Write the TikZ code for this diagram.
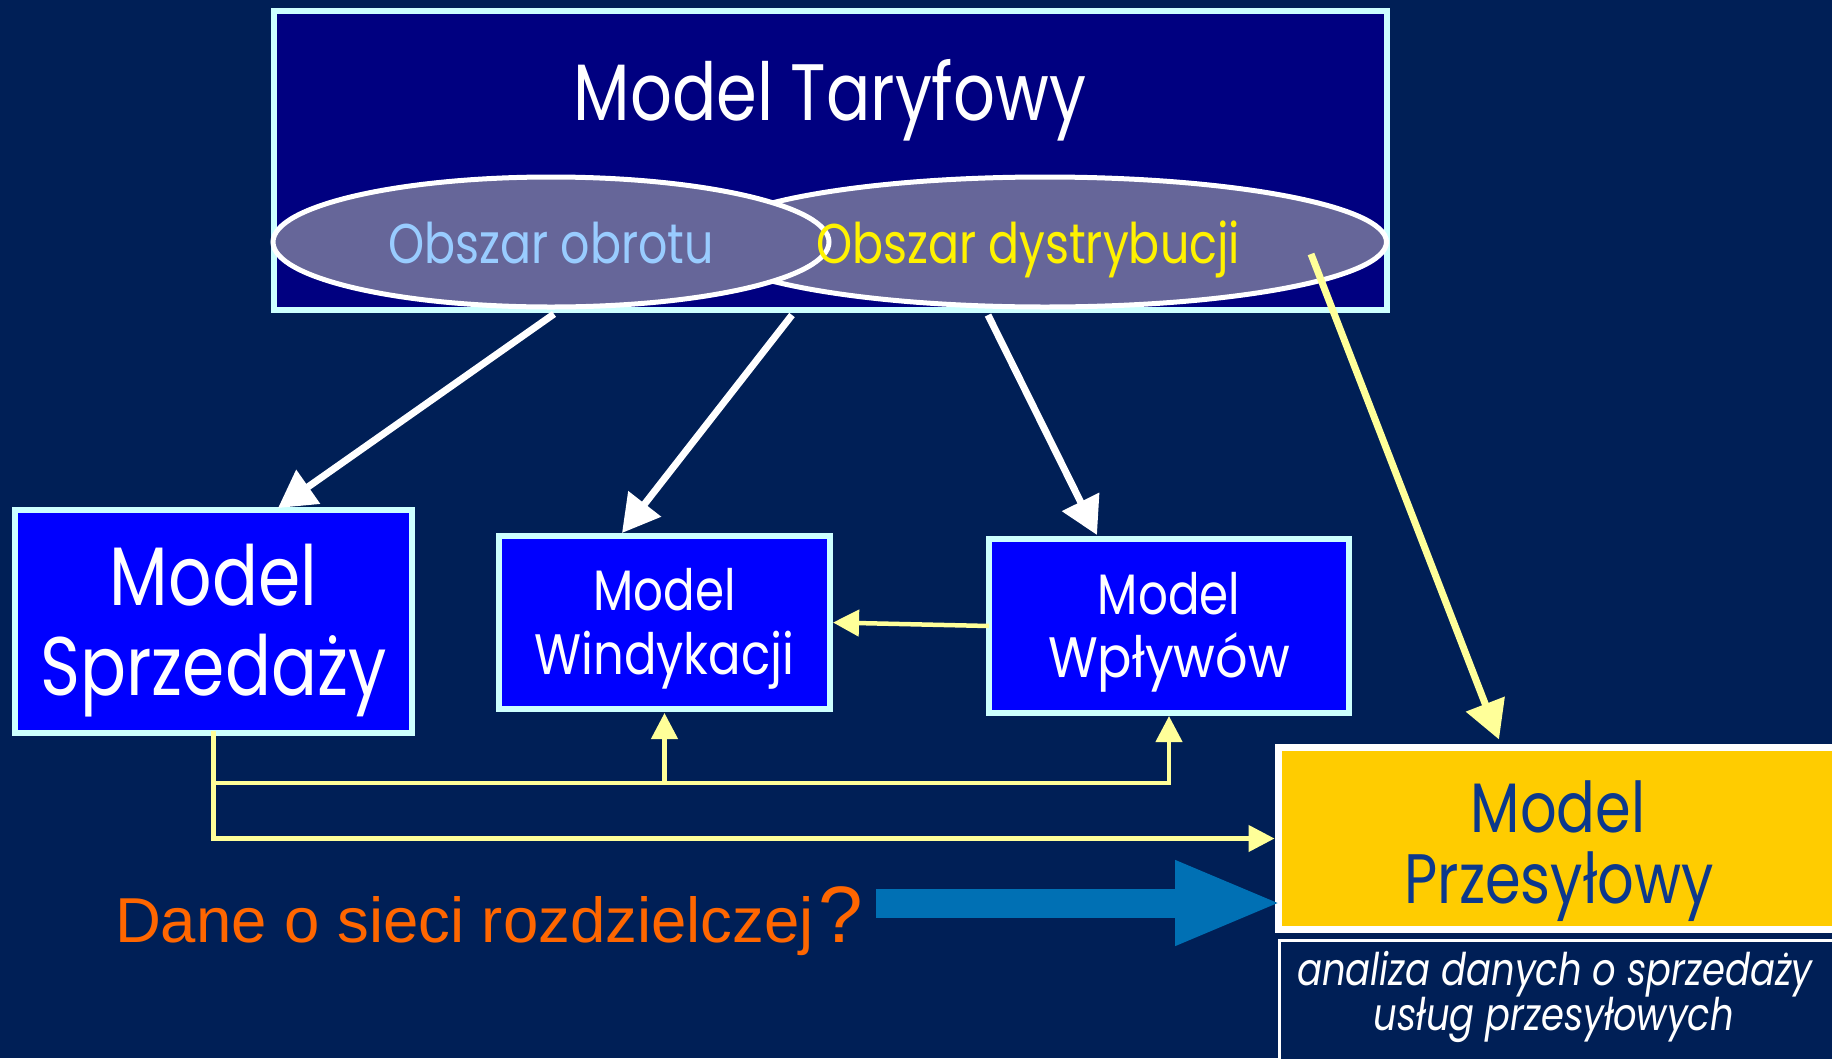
\documentclass[tikz,border=0pt]{standalone}
\usepackage{fontspec}
\setmainfont{Poppins}
\newfontfamily\futura{Poppins}[FakeStretch=0.82]
\newfontfamily\arialf{Liberation Sans}
\usetikzlibrary{arrows.meta,shapes.geometric,calc}
\definecolor{bg}{RGB}{0,31,86}
\definecolor{navyf}{RGB}{0,0,128}
\definecolor{cyb}{RGB}{204,255,255}
\definecolor{ellf}{RGB}{102,102,153}
\definecolor{boxb}{RGB}{0,0,255}
\definecolor{lyel}{RGB}{255,255,153}
\definecolor{gold}{RGB}{255,204,0}
\definecolor{ptxt}{RGB}{12,56,140}
\definecolor{orng}{RGB}{255,102,0}
\definecolor{barr}{RGB}{0,112,180}
\definecolor{lblue}{RGB}{153,204,255}
\newcommand\fsz[1]{\fontsize{#1}{#1}\selectfont}
\tikzset{
  txt/.style={inner sep=0pt, outer sep=0pt, anchor=base},
  modbox/.style={draw=cyb, line width=6pt, fill=boxb, inner sep=0pt, outer sep=0pt},
  ell/.style={ellipse, draw=white, line width=5pt, fill=ellf, inner sep=0pt, outer sep=0pt},
  warr/.style={draw=white, line width=7pt, -{Triangle[length=37pt,width=40pt]}},
  yarr/.style={draw=lyel, line width=4.5pt, -{Triangle[length=26pt,width=26pt]}},
  yline/.style={draw=lyel, line width=4.5pt, line cap=rect},
}
\begin{document}
\begin{tikzpicture}[x=1pt,y=-1pt]
\clip (0,0) rectangle (1832,1058);
\fill[bg] (0,0) rectangle (1832,1058);
% top box
\node[draw=cyb, line width=6pt, fill=navyf, minimum width=1113pt, minimum height=299pt, inner sep=0pt, outer sep=0pt] (tar) at (830.5,160.5) {};
\node[txt, white] (tart) at (830,120) {\futura\fsz{80}Model Taryfowy};
\node[ell, minimum width=683pt, minimum height=130pt] (e2) at (1045,242) {};
\node[ell, minimum width=556pt, minimum height=130pt] (e1) at (551,242) {};
\node[txt, lblue] (obtx) at (551,263) {\futura\fsz{56}Obszar obrotu};
\node[txt, yellow] (dytx) at (1028,263) {\futura\fsz{56}Obszar dystrybucji};
% model boxes
\node[modbox, minimum width=397pt, minimum height=223pt] (spr) at (213.5,621.5) {};
\node[txt, white] (spr1) at (213.5,605) {\futura\fsz{83}Model};
\node[txt, white] (spr2) at (213.5,695) {\futura\fsz{83}Sprzedaży};
\node[modbox, minimum width=331pt, minimum height=173pt] (win) at (664.5,622.5) {};
\node[txt, white] (win1) at (664.5,610) {\futura\fsz{57}Model};
\node[txt, white] (win2) at (664.5,674) {\futura\fsz{57}\scalebox{1.03}[1]{Windykacji}};
\node[modbox, minimum width=360pt, minimum height=174pt] (wpl) at (1169,626) {};
\node[txt, white] (wpl1) at (1169,614) {\futura\fsz{57}Model};
\node[txt, white] (wpl2) at (1169,677) {\futura\fsz{57}\scalebox{1.09}[1]{Wpływów}};
% Przesylowy
\node[draw=white, line width=7pt, fill=gold, minimum width=621.5pt, minimum height=182pt, inner sep=0pt, outer sep=0pt] (prz) at (1589.25,838.5) {};
\node[txt, ptxt] (prz1) at (1558,832) {\futura\fsz{70}Model};
\node[txt, ptxt] (prz2) at (1559,903) {\futura\fsz{70}Przesyłowy};
\node[draw=white, line width=3pt, fill=bg, minimum width=620pt, minimum height=160pt, inner sep=0pt, outer sep=0pt, anchor=north west] (ana) at (1279.5,940.5) {};
\node[txt, white] (ana1) at (1555,985) {\futura\fsz{45}\itshape analiza danych o sprzedaży};
\node[txt, white] (ana2) at (1554,1030) {\futura\fsz{45}\itshape usług przesyłowych};
% text bottom
\node[txt, anchor=base west, orng] (dane) at (115,942) {\arialf\fsz{63.5}Dane o sieci rozdzielczej\kern5pt{\fsz{80}?}};
% white arrows
\coordinate (s1) at (554,314);
\coordinate (s2) at (792,315);
\coordinate (s3) at (988,315);
\draw[warr] (s1) -- ($(spr.north)+(64.5,-2)$);
\draw[warr] (s2) -- ($(win.north)+(-42.5,-3)$);
\draw[warr] (s3) -- ($(wpl.north)+(-72,-4)$);
% thick yellow arrow
\coordinate (y0) at (1311,254);
\draw[draw=lyel, line width=7pt, -{Triangle[length=38pt,width=40pt]}] (y0) -- ($(prz.north west)+(220.5,-8)$);
% thin yellow connectors
\draw[yarr] (wpl.west) -- ($(win.east)+(3,0)$);
\coordinate (j1) at (213.5,783);
\draw[yline] (spr.south) -- (j1) -- (wpl.south |- j1);
\draw[yarr] (spr.south) -- (spr.south |- prz.west) -- ($(prz.west)+(-4,0)$);
\draw[yarr] (win.south |- j1) -- ($(win.south)+(0,4)$);
\draw[yarr] (wpl.south |- j1) -- ($(wpl.south)+(0,3)$);
% blue arrow
\coordinate (b0) at (876,903);
\draw[draw=barr, line width=29pt, -{Triangle[length=108pt,width=77pt]}] (b0) -- ($(prz.west |- b0)+(4.5,0)$);
\end{tikzpicture}
\end{document}
